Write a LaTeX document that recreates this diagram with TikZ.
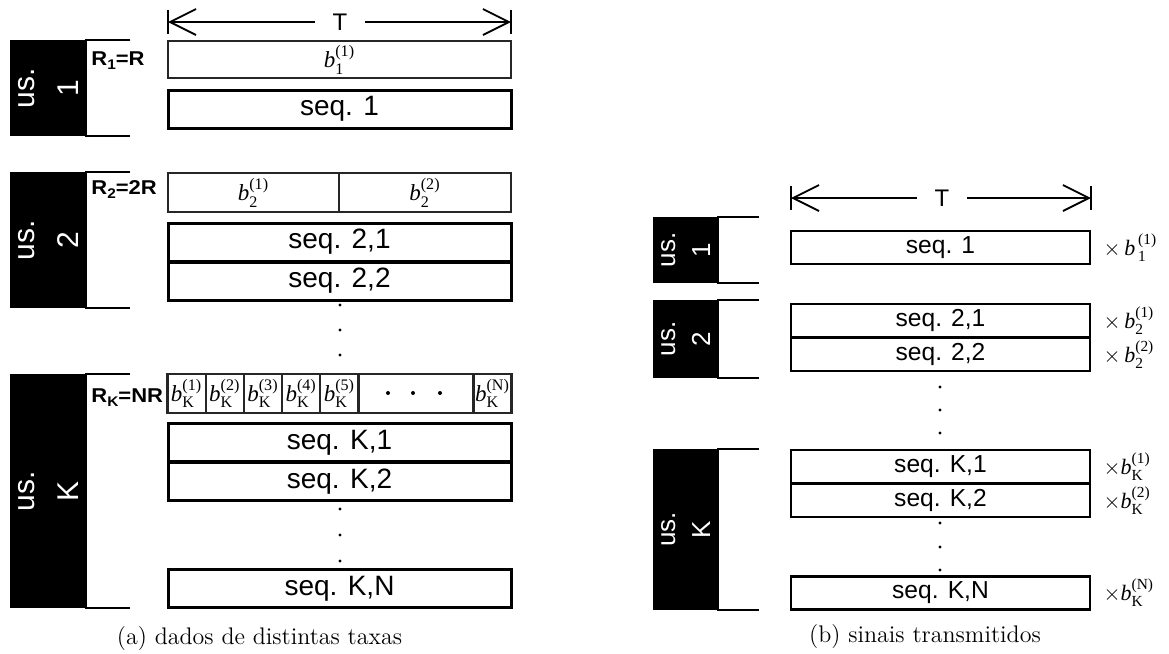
\documentclass[tikz,border=0pt]{standalone}
\usepackage{amsmath}
\usepackage{graphicx}
\usepackage{fontspec}
\usetikzlibrary{positioning,arrows.meta}
\newfontfamily\arialf{Liberation Sans}
\newfontfamily\ratefam[FakeStretch=1.1]{Liberation Sans}
\newfontfamily\timesf{Liberation Serif}

\newcommand{\seqfontL}{\arialf\fontsize{14}{16}\selectfont}
\newcommand{\seqfontR}{\arialf\fontsize{12.3}{14}\selectfont}
\newcommand{\usfontL}{\arialf\fontsize{15}{22}\selectfont}
\newcommand{\usfontR}{\arialf\fontsize{13}{17.5}\selectfont}
\newcommand{\ratefont}{\ratefam\bfseries\fontsize{10}{12}\selectfont}
\newcommand{\ratesub}[1]{\raisebox{-0.45ex}{\fontsize{7}{8}\selectfont #1}}
\newcommand{\bval}[2]{$\text{\itshape b}^{\text{(#2)}}_{\text{#1}}$}
\newcommand{\usrlabel}[2]{\makebox[0pt]{\rotatebox{90}{\begin{tabular}{@{}c@{}}#1\\#2\end{tabular}}}}

\tikzset{
  usrbox/.style={fill=black, text=white, inner sep=0pt},
  bracket/.style={line width=1pt},
  ratelabel/.style={anchor=base west, inner sep=0pt, font=\ratefont},
  bcell/.style={draw=black!85, line width=1.1pt, inner sep=0pt, minimum height=19.5pt,
    font=\timesf\fontsize{11.5}{13}\selectfont},
  seqL/.style={draw, line width=1.5pt, inner sep=0pt, minimum width=171.5pt,
    minimum height=19pt, font=\seqfontL},
  seqR/.style={draw, line width=1.3pt, inner sep=0pt, minimum width=149.5pt,
    minimum height=16.5pt, font=\seqfontR},
  dimarrow/.style={line width=0.9pt,
    {Straight Barb[length=13pt,width=13pt]}-{Straight Barb[length=13pt,width=13pt]}},
  dimbar/.style={line width=0.9pt},
  tlabel/.style={fill=white, inner xsep=9pt, inner ysep=1pt, font=\arialf\fontsize{12}{14}\selectfont},
  gain/.style={anchor=west, inner sep=0pt, font=\timesf\fontsize{11}{13}\selectfont},
  caption/.style={font=\fontsize{12}{14}\selectfont},
}

\begin{document}
\begin{tikzpicture}[x=0.5pt, y=-0.5pt]
  \useasboundingbox (0,0) rectangle (1169,654);

  % (a) dados de distintas taxas
  \coordinate (TaL) at (168,22);
  \coordinate (TaR) at (511,22);
  \draw[dimarrow] (TaL) -- (TaR);
  \draw[dimbar] (TaL) ++(0,-12) -- ++(0,24);
  \draw[dimbar] (TaR) ++(0,-12) -- ++(0,24);
  \node[tlabel] (Ta) at (340,22) {T};

  \node[usrbox, minimum width=38pt, minimum height=48pt, font=\usfontL] (usA1) at (48,88) {\usrlabel{us.}{1}};
  \node[usrbox, minimum width=38pt, minimum height=68pt, font=\usfontL] (usA2) at (48,240) {\usrlabel{us.}{2}};
  \node[usrbox, minimum width=38pt, minimum height=117pt, font=\usfontL] (usAK) at (48,491) {\usrlabel{us.}{K}};
  \foreach \u in {usA1,usA2,usAK}
    \draw[bracket] (\u.north east) ++(44,0) -- (\u.north east) -- (\u.south east) -- ++(44,0);

  \node[ratelabel] (rate1) at (91,65) {R\ratesub{1}=R};
  \node[ratelabel] (rate2) at (91,194) {R\ratesub{2}=2R};
  \node[ratelabel] (rateK) at (91,402) {R\ratesub{K}=NR};

  \node[bcell, minimum width=171.5pt, minimum height=18.5pt] (b1) at (339.5,59.5) {\bval{1}{1}};
  \node[seqL] (seqA1) at (339.5,109) {seq. 1};

  \node[bcell, minimum width=85.75pt] (b21) at (253.5,192.5) {\bval{2}{1}};
  \node[bcell, minimum width=85.75pt] (b22) at (425,192.5) {\bval{2}{2}};
  \node[seqL] (seqA21) at (339.5,242) {seq. 2,1};
  \node[seqL, below=-1pt of seqA21] (seqA22) {seq. 2,2};
  \foreach \y in {305,330,355}
    \fill (340,\y) circle[radius=1.6];

  \foreach \i in {1,...,5}
    \node[bcell, minimum width=19.1pt] (bK\i) at ({167.5+(\i-0.5)*38.2},393.5) {\bval{K}{\i}};
  \node[bcell, minimum width=57.5pt] (bKdots) at (416,393.5) {};
  \foreach \x in {388,413,440}
    \fill (\x,393) circle[radius=2];
  \node[bcell, minimum width=19pt] (bKN) at (492.5,393.5) {\bval{K}{N}};
  \node[seqL] (seqAK1) at (339.5,442.5) {seq. K,1};
  \node[seqL, below=-1pt of seqAK1] (seqAK2) {seq. K,2};
  \foreach \y in {509,535,561}
    \fill (340,\y) circle[radius=1.6];
  \node[seqL] (seqAKN) at (339.5,588.5) {seq. K,N};

  \node[caption] (capA) at (259.5,639) {(a) dados de distintas taxas};

  % (b) sinais transmitidos
  \coordinate (TbL) at (791,198);
  \coordinate (TbR) at (1091,198);
  \draw[dimarrow] (TbL) -- (TbR);
  \draw[dimbar] (TbL) ++(0,-12) -- ++(0,24);
  \draw[dimbar] (TbR) ++(0,-12) -- ++(0,24);
  \node[tlabel] (Tb) at (942,198) {T};

  \node[usrbox, minimum width=32.5pt, minimum height=33pt, font=\usfontR] (usB1) at (685.5,250) {\usrlabel{us.}{1}};
  \node[usrbox, minimum width=32.5pt, minimum height=39pt, font=\usfontR] (usB2) at (685.5,339) {\usrlabel{us.}{2}};
  \node[usrbox, minimum width=32.5pt, minimum height=80.5pt, font=\usfontR] (usBK) at (685.5,529.5) {\usrlabel{us.}{K}};
  \foreach \u in {usB1,usB2,usBK}
    \draw[bracket] (\u.north east) ++(41,0) -- (\u.north east) -- (\u.south east) -- ++(41,0);

  \node[seqR] (seqB1) at (940.5,247.5) {seq. 1};
  \node[seqR] (seqB21) at (940.5,320.5) {seq. 2,1};
  \node[seqR, below=-0.8pt of seqB21] (seqB22) {seq. 2,2};
  \foreach \y in {387,410,433}
    \fill (940,\y) circle[radius=1.6];
  \node[seqR] (seqBK1) at (940.5,466.5) {seq. K,1};
  \node[seqR, below=-0.8pt of seqBK1] (seqBK2) {seq. K,2};
  \foreach \y in {523,547,570}
    \fill (940,\y) circle[radius=1.6];
  \node[seqR] (seqBKN) at (940.5,593) {seq. K,N};

  \node[gain, right=6pt of seqB1] (g1) {$\times\,\text{\itshape b}_{\,\text{1}}^{\,\text{(1)}}$};
  \node[gain, right=6pt of seqB21] (g21) {$\times\,$\bval{2}{1}};
  \node[gain, right=6pt of seqB22] (g22) {$\times\,$\bval{2}{2}};
  \node[gain, right=6pt of seqBK1] (gK1) {$\times$\bval{K}{1}};
  \node[gain, right=6pt of seqBK2] (gK2) {$\times$\bval{K}{2}};
  \node[gain, right=6pt of seqBKN] (gKN) {$\times$\bval{K}{N}};

  \node[caption] (capB) at (925,637) {(b) sinais transmitidos};
\end{tikzpicture}
\end{document}
